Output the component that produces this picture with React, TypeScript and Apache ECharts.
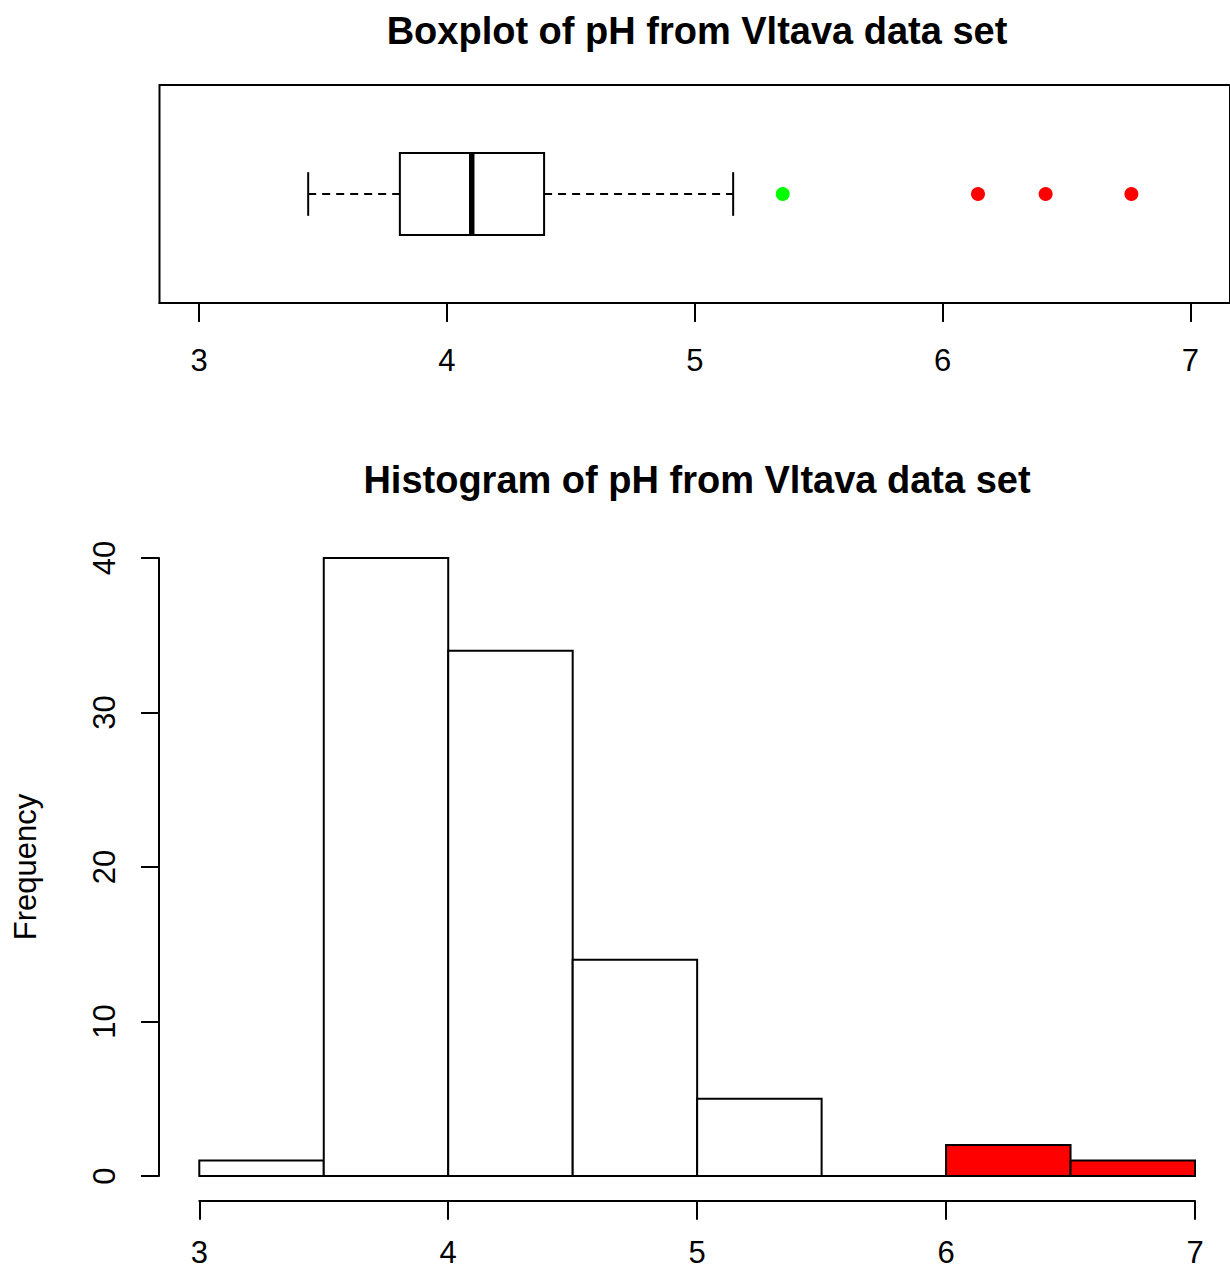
import React, { useEffect, useRef } from "react";
import * as echarts from "echarts";

// ---- Boxplot data ----
const boxTicks = [3, 4, 5, 6, 7];
const boxCategories = ["pH"];
// min whisker, Q1, median, Q3, max whisker
const boxStats = [3.44, 3.81, 4.1, 4.392, 5.155];
const outlierValues = [5.355, 6.143, 6.416, 6.762];
const outlierColors = ["#00ff00", "#ff0000", "#ff0000", "#ff0000"];

// ---- Histogram data ----
const binStarts = [3, 3.5, 4, 4.5, 5, 5.5, 6, 6.5];
const binEnds = [3.5, 4, 4.5, 5, 5.5, 6, 6.5, 7];
const binCounts = [1, 40, 34, 14, 5, 0, 2, 1];
const binColors = ["#ffffff", "#ffffff", "#ffffff", "#ffffff", "#ffffff", "#ffffff", "#ff0000", "#ff0000"];

const boxTitle = "Boxplot of pH from Vltava data set";
const histTitle = "Histogram of pH from Vltava data set";
const yName = "Frequency";

const FONT = "Liberation Sans, Arial, sans-serif";

export default function App() {
  const ref = useRef<HTMLDivElement>(null);
  useEffect(() => {
    if (!ref.current) return;
    const chart = echarts.init(ref.current, undefined, { renderer: "svg" });
    const axisText = { color: "#000", fontFamily: FONT, fontSize: 31, lineHeight: 26 };
    const blackLine = { color: "#000", width: 2 };
    chart.setOption({
      animation: false,
      backgroundColor: "#fff",
      graphic: [
        {
          type: "text",
          x: 697,
          y: 31,
          style: {
            text: boxTitle,
            fill: "#000",
            font: `bold 38px ${FONT}`,
            textAlign: "center",
            textVerticalAlign: "middle",
          },
        },
        {
          type: "text",
          x: 697,
          y: 480,
          style: {
            text: histTitle,
            fill: "#000",
            font: `bold 38px ${FONT}`,
            textAlign: "center",
            textVerticalAlign: "middle",
          },
        },
      ],
      grid: [
        {
          left: 159.5,
          top: 85,
          width: 1076,
          height: 218,
          show: true,
          borderColor: "#000",
          borderWidth: 2,
          backgroundColor: "transparent",
        },
        {
          left: 199.3,
          top: 558,
          width: 995.7,
          height: 618,
        },
      ],
      xAxis: [
        {
          type: "value",
          gridIndex: 0,
          min: 2.84,
          max: 7.16,
          splitLine: { show: false },
          axisLine: { show: true, onZero: false, lineStyle: blackLine },
          axisTick: { show: true, customValues: boxTicks, length: 19, lineStyle: blackLine },
          axisLabel: { ...axisText, customValues: boxTicks, margin: 44 },
        },
        {
          type: "value",
          gridIndex: 1,
          min: 3,
          max: 7,
          interval: 1,
          offset: 24.7,
          splitLine: { show: false },
          axisLine: { show: true, onZero: false, lineStyle: blackLine },
          axisTick: { show: true, length: 19, lineStyle: blackLine },
          axisLabel: { ...axisText, margin: 39, showMinLabel: true, showMaxLabel: true },
        },
      ],
      yAxis: [
        {
          type: "category",
          gridIndex: 0,
          data: boxCategories,
          show: false,
        },
        {
          type: "value",
          gridIndex: 1,
          min: 0,
          max: 40,
          interval: 10,
          offset: 40.3,
          splitLine: { show: false },
          axisLine: { show: true, onZero: false, lineStyle: blackLine },
          axisTick: { show: true, length: 18, lineStyle: blackLine },
          axisLabel: { ...axisText, rotate: 90, margin: 42 },
          name: yName,
          nameLocation: "middle",
          nameRotate: 90,
          nameGap: 118,
          nameTextStyle: { color: "#000", fontFamily: FONT, fontSize: 31 },
        },
      ],
      series: [
        {
          type: "custom",
          xAxisIndex: 0,
          yAxisIndex: 0,
          encode: { x: [1, 2, 3, 4, 5], y: 0 },
          data: [[0, ...boxStats]],
          renderItem: (params: any, api: any) => {
            const cat = api.value(0);
            const band = api.size([0, 1])[1];
            const px = (v: number) => api.coord([v, cat]);
            const [xMin, cy] = px(api.value(1));
            const xQ1 = px(api.value(2))[0];
            const xMed = px(api.value(3))[0];
            const xQ3 = px(api.value(4))[0];
            const xMax = px(api.value(5))[0];
            const boxH = band * 0.188;
            const capH = band * 0.1;
            const dashed = { stroke: "#000", lineWidth: 2, lineDash: [8, 6] };
            const solid = { stroke: "#000", lineWidth: 2 };
            return {
              type: "group",
              children: [
                { type: "line", shape: { x1: xMin, y1: cy, x2: xQ1, y2: cy }, style: dashed },
                { type: "line", shape: { x1: xQ3, y1: cy, x2: xMax, y2: cy }, style: dashed },
                { type: "line", shape: { x1: xMin, y1: cy - capH, x2: xMin, y2: cy + capH }, style: solid },
                { type: "line", shape: { x1: xMax, y1: cy - capH, x2: xMax, y2: cy + capH }, style: solid },
                {
                  type: "rect",
                  shape: { x: xQ1, y: cy - boxH, width: xQ3 - xQ1, height: 2 * boxH },
                  style: { fill: "#fff", stroke: "#000", lineWidth: 2 },
                },
                {
                  type: "line",
                  shape: { x1: xMed, y1: cy - boxH, x2: xMed, y2: cy + boxH },
                  style: { stroke: "#000", lineWidth: 5.5 },
                },
              ],
            };
          },
        },
        {
          type: "scatter",
          xAxisIndex: 0,
          yAxisIndex: 0,
          symbol: "circle",
          symbolSize: 14,
          data: outlierValues.map((v, i) => ({
            value: [v, 0],
            itemStyle: { color: outlierColors[i], opacity: 1 },
          })),
        },
        {
          type: "custom",
          xAxisIndex: 1,
          yAxisIndex: 1,
          encode: { x: [0, 1], y: 2 },
          data: binStarts.map((s, i) => ({
            value: [s, binEnds[i], binCounts[i]],
            itemStyle: { color: binColors[i] },
          })),
          renderItem: (params: any, api: any) => {
            const p0 = api.coord([api.value(0), api.value(2)]);
            const p1 = api.coord([api.value(1), 0]);
            return {
              type: "rect",
              shape: { x: p0[0], y: p0[1], width: p1[0] - p0[0], height: p1[1] - p0[1] },
              style: { fill: api.visual("color"), stroke: "#000", lineWidth: 2 },
            };
          },
        },
      ],
    });
    return () => chart.dispose();
  }, []);
  return (
    <div
      ref={ref}
      style={{ position: "absolute", left: 0, top: 0, width: 1230, height: 1271 }}
    />
  );
}
